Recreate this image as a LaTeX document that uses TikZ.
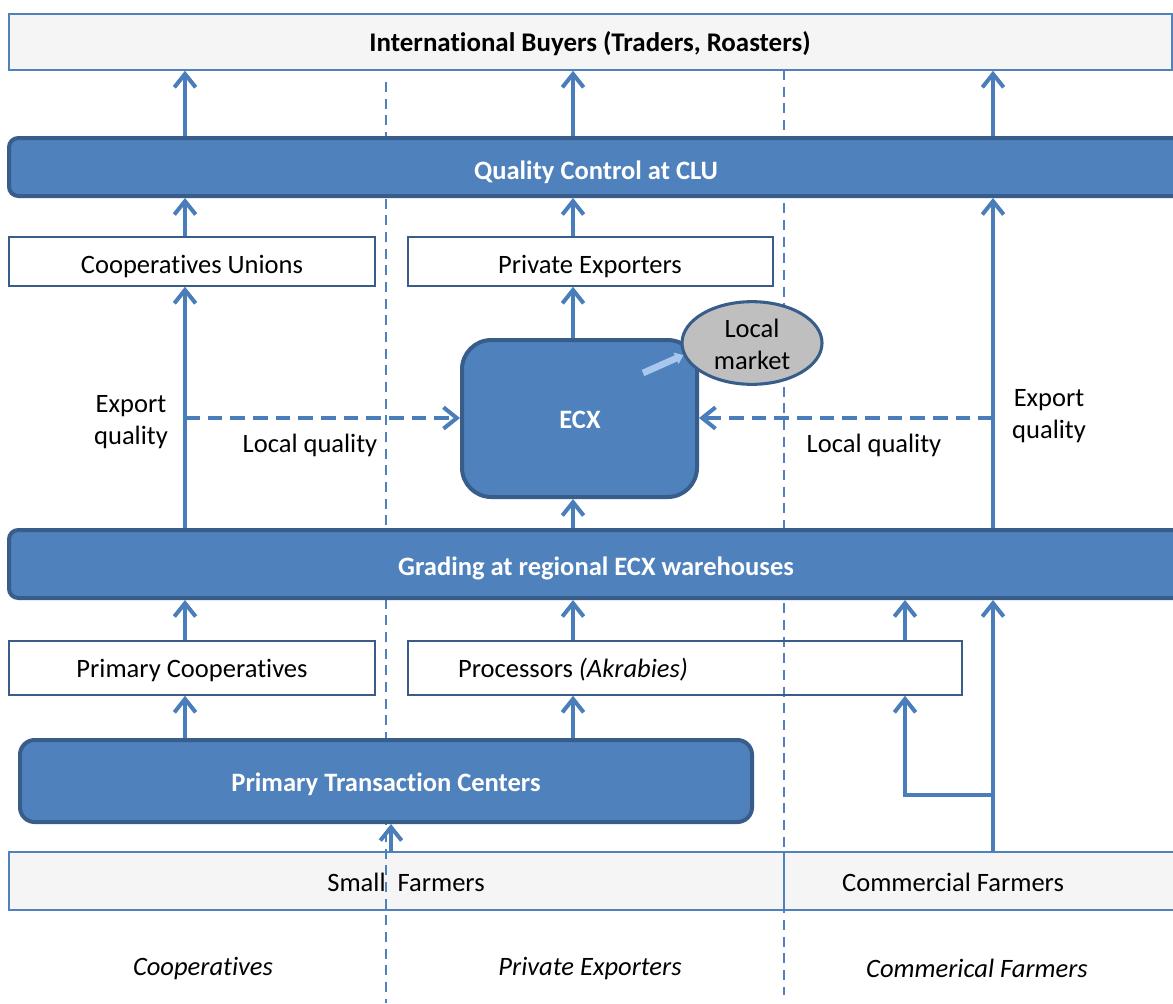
\documentclass[tikz,border=0pt]{standalone}
\usepackage{fontspec}
\setmainfont{Carlito}[Ligatures=NoCommon]
\usetikzlibrary{arrows.meta,shapes.geometric,fit}
\definecolor{mainblue}{HTML}{4F81BD}
\definecolor{darkblue}{HTML}{385D8A}
\definecolor{arrblue}{HTML}{4A7EBB}
\definecolor{lightgrey}{HTML}{F5F5F5}
\definecolor{ellgrey}{HTML}{BFBFBF}
\definecolor{lightarrow}{HTML}{A9C6EE}
\tikzset{
  txt/.style={font=\fontsize{19.9}{24}\selectfont, text=black, inner sep=0pt, align=center, yshift=-1.5pt},
  boldtxt/.style={font=\fontsize{19.9}{24}\selectfont\bfseries, text=white, inner sep=0pt, align=center, yshift=-1.5pt},
  ibtxt/.style={font=\fontsize{20.2}{24}\selectfont\bfseries, text=black, inner sep=0pt, yshift=-1.5pt},
  ittxt/.style={font=\fontsize{19.9}{24}\selectfont\itshape, text=black, inner sep=0pt, yshift=-1.5pt},
  greybox/.style={draw=mainblue, line width=1.2pt, fill=lightgrey, inner sep=0pt},
  whitebox/.style={draw=darkblue, line width=1.2pt, fill=white, inner sep=0pt},
  openbox/.style={draw=darkblue, line width=1.2pt, inner sep=0pt},
  bar/.style={draw=darkblue, line width=3pt, fill=mainblue, inner sep=0pt, rounded corners=7pt},
  divider/.style={draw=mainblue, line width=1.5pt, dash pattern=on 7.5pt off 5pt},
  arr/.style={draw=arrblue, line width=3pt, -{Straight Barb[length=10pt, width=16pt, line width=3pt]}},
  dasharr/.style={draw=arrblue, line width=3pt, dash pattern=on 11pt off 6pt, -{Straight Barb[length=10pt, width=16pt, line width=3pt]}},
}
\begin{document}
\begin{tikzpicture}[x=0.75pt, y=-0.75pt]
\clip (0,0) rectangle (1173,1003);
\fill[white] (0,0) rectangle (1173,1003);
% column coordinates
\coordinate (c1) at (185,0);
\coordinate (c2) at (573,0);
\coordinate (c3) at (993,0);
\coordinate (c4) at (905,0);
\coordinate (c5) at (391,0);
% bottom farmer boxes
\node[greybox, fit={(9,852)(784,910)}] (sf) {};
\node[greybox, fit={(784,852)(1180,910)}] (cf) {};
% dividers
\draw[divider] (386,82) -- (386,1003);
\draw[divider] (784,70) -- (784,995);
% boxes
\node[greybox, fit={(9,14)(1172,70)}] (ib) {};
\node[bar, fit={(9,138)(1195,196)}] (qc) {};
\node[whitebox, fit={(9,237)(375,286)}] (cu) {};
\node[whitebox, fit={(408,237)(773,286)}] (pe) {};
\node[draw=darkblue, line width=3pt, fill=mainblue, rounded corners=22pt, inner sep=0pt, fit={(462,340)(697,497)}] (ecx) {};
\node[draw=darkblue, line width=2.3pt, fill=ellgrey, ellipse, minimum width=105pt, minimum height=62pt, inner sep=0pt] (lm) at (752,343) {};
\node[bar, fit={(9,530)(1195,598)}] (gr) {};
\node[whitebox, fit={(9,641)(375,695)}] (pc) {};
\node[openbox, fit={(408,641)(962,695)}] (proc) {};
\node[bar, rounded corners=11pt, fit={(20,740)(752,822)}] (ptc) {};
% texts
\node[ibtxt] (ibt) at (590,42) {International Buyers (Traders, Roasters)};
\node[boldtxt] (qct) at (596,170) {Quality Control at CLU};
\node[txt] (cut) at (192,265) {Cooperatives Unions};
\node[txt] (pet) at (590,265) {Private Exporters};
\node[boldtxt] (ecxt) at (580,418) {ECX};
\node[txt] (lmt) at (752,342) {Local\\market};
\node[boldtxt] (grt) at (596,566) {Grading at regional ECX warehouses};
\node[txt] (pct) at (192,668) {Primary Cooperatives};
\node[txt] (proct) at (573,668) {Processors \textit{(Akrabies)}};
\node[boldtxt] (ptct) at (386,782) {Primary Transaction Centers};
\node[txt] (sft) at (406,880) {Small\ \ Farmers};
\node[txt] (cft) at (953,880) {Commercial Farmers};
\node[txt] (eq1) at (131,420) {Export\\quality};
\node[txt] (eq2) at (1049,414) {Export\\quality};
\node[txt] (lq1t) at (310,443) {Local quality};
\node[txt] (lq2t) at (874,443) {Local quality};
\node[ittxt] (b1) at (203,966) {Cooperatives};
\node[ittxt] (b2) at (590,966) {Private Exporters};
\node[ittxt] (b3) at (977,966) {Commerical Farmers};
% arrows top
\draw[arr] (qc.north -| c1) -- (ib.south -| c1);
\draw[arr] (qc.north -| c2) -- (ib.south -| c2);
\draw[arr] (qc.north -| c3) -- (ib.south -| c3);
\draw[arr] (cu.north -| c1) -- (qc.south -| c1);
\draw[arr] (pe.north -| c2) -- (qc.south -| c2);
\draw[arr] (ecx.north -| c2) -- (pe.south -| c2);
\draw[arr] (gr.north -| c1) -- (cu.south -| c1);
\draw[arr] (gr.north -| c2) -- (ecx.south -| c2);
\draw[arr] (gr.north -| c3) -- (qc.south -| c3);
% local quality dashed
\coordinate (lqa) at (185,418);
\coordinate (lqb) at (993,418);
\draw[dasharr] (lqa) -- (ecx.west |- lqa);
\draw[dasharr] (lqb) -- (ecx.east |- lqb);
% small arrow to local market
\coordinate (sa) at (643,373);
\draw[lightarrow, line width=5pt, -{Triangle[length=6pt, width=9pt]}] (sa) -- (lm.190);
% lower arrows
\draw[arr] (pc.north -| c1) -- (gr.south -| c1);
\draw[arr] (proc.north -| c2) -- (gr.south -| c2);
\draw[arr] (proc.north -| c4) -- (gr.south -| c4);
\draw[arr] (ptc.north -| c1) -- (pc.south -| c1);
\draw[arr] (ptc.north -| c2) -- (proc.south -| c2);
\draw[arr] (sf.north -| c5) -- (ptc.south -| c5);
\draw[arr] (cf.north -| c3) -- (gr.south -| c3);
\coordinate (br) at (993,795);
\draw[arr] (br) -| (proc.south -| c4);
\end{tikzpicture}
\end{document}
